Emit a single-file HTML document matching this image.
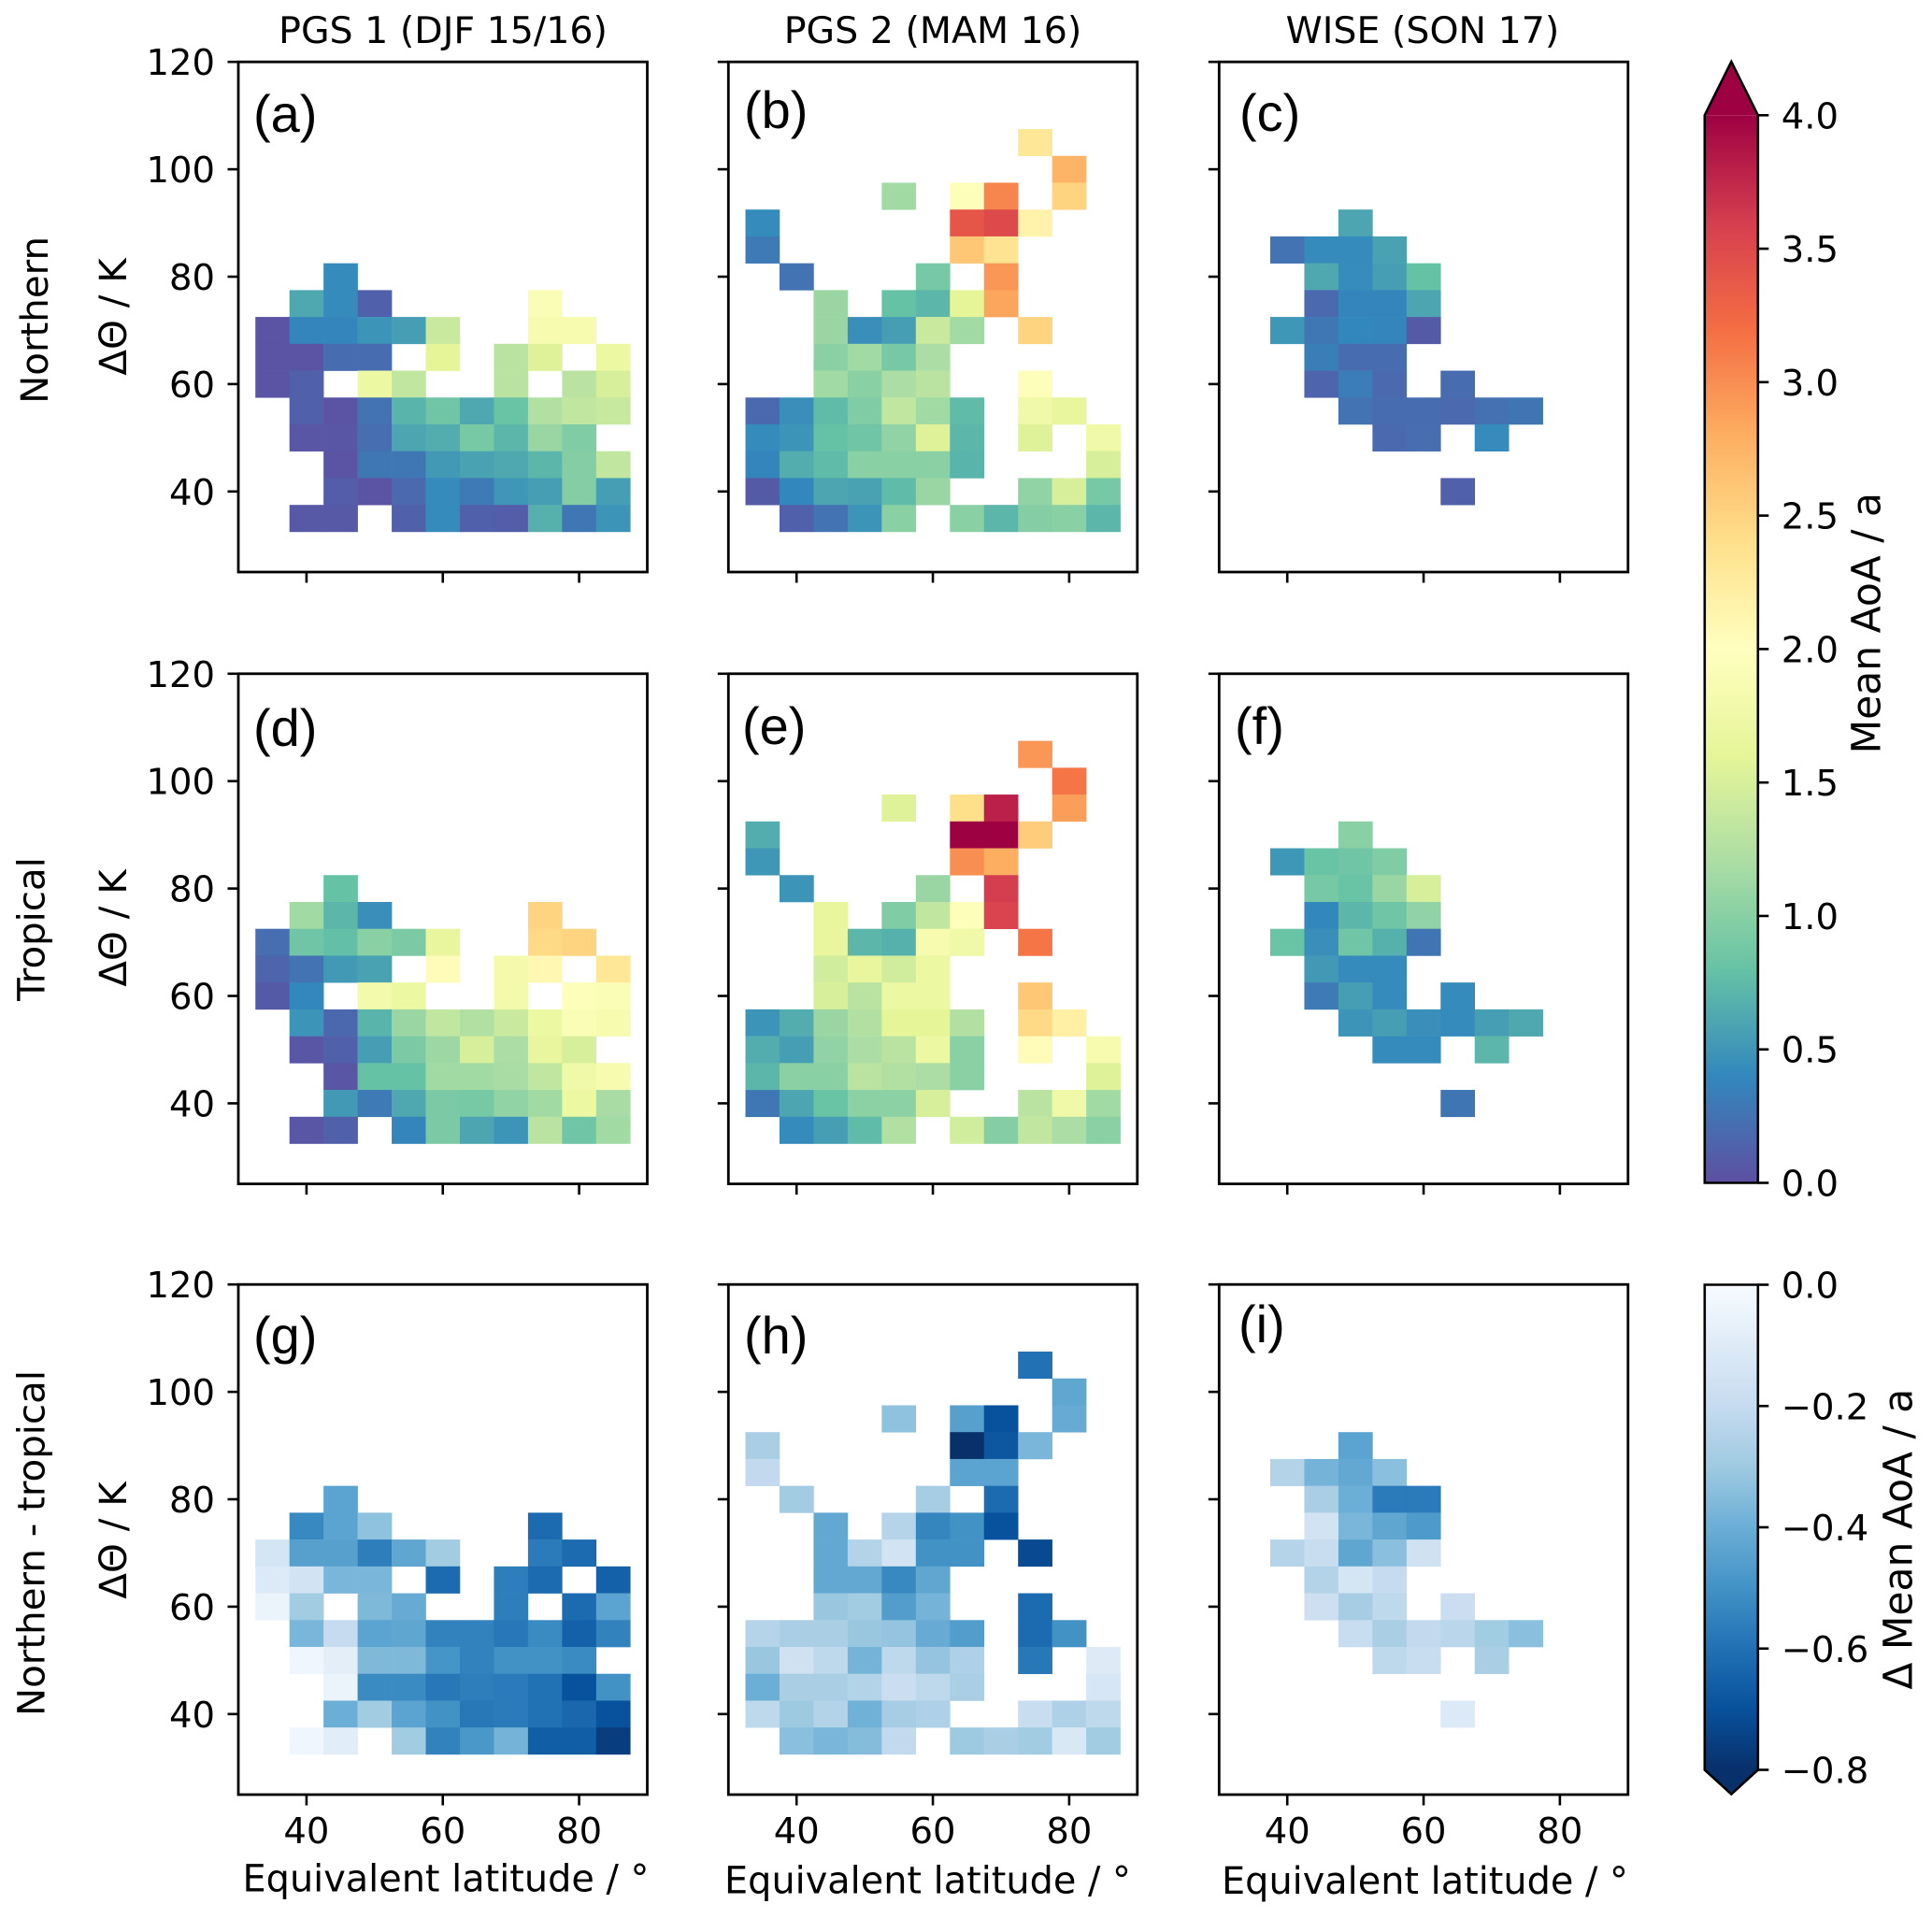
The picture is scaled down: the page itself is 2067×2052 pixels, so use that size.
<!DOCTYPE html>
<html lang="en">
<head>
<meta charset="utf-8">
<title>Mean AoA panels</title>
<style>
html,body{margin:0;padding:0;background:#fff;width:2067px;height:2052px;overflow:hidden}
svg{display:block}
text{font-family:"DejaVu Sans","Liberation Sans",sans-serif;fill:#000}
.tick{font-size:38.5px}
.title{font-size:39.5px;text-anchor:middle}
.axis{font-size:39.8px;text-anchor:middle}
.ylab{font-size:40.5px;text-anchor:middle}
.cbar-label{font-size:42.4px;text-anchor:middle}
.row-label{font-size:40.3px;text-anchor:middle}
.panel-letter{font-family:"Liberation Sans",sans-serif;font-size:56px}
</style>
</head>
<body>
<svg id="figure" xmlns="http://www.w3.org/2000/svg" width="2067" height="2052" viewBox="0 0 2067 2052">
<defs>
<linearGradient id="spectral-gradient" x1="0" y1="1" x2="0" y2="0"></linearGradient>
<linearGradient id="blues-gradient" x1="0" y1="1" x2="0" y2="0"></linearGradient>
</defs>
<g id="cells"></g>
<g id="axes"></g>
<g id="colorbars"></g>

<text class="title" x="474" y="46">PGS 1 (DJF 15/16)</text>
<text class="title" x="998" y="46">PGS 2 (MAM 16)</text>
<text class="title" x="1522" y="46">WISE (SON 17)</text>

<text class="row-label" transform="translate(51,342.4) rotate(-90)">Northern</text>
<text class="row-label" transform="translate(47.5,994) rotate(-90)">Tropical</text>
<text class="row-label" transform="translate(47.5,1651) rotate(-90)">Northern - tropical</text>

<text class="ylab" transform="translate(135,339) rotate(-90)">ΔΘ / K</text>
<text class="ylab" transform="translate(135,993) rotate(-90)">ΔΘ / K</text>
<text class="ylab" transform="translate(135,1648) rotate(-90)">ΔΘ / K</text>

<text class="axis" x="477" y="2023.5">Equivalent latitude / °</text>
<text class="axis" x="992.5" y="2025.5">Equivalent latitude / °</text>
<text class="axis" x="1524.5" y="2026">Equivalent latitude / °</text>

<text class="panel-letter" x="271" y="141">(a)</text>
<text class="panel-letter" x="796" y="137">(b)</text>
<text class="panel-letter" x="1326" y="140">(c)</text>
<text class="panel-letter" x="271" y="798">(d)</text>
<text class="panel-letter" x="794" y="796">(e)</text>
<text class="panel-letter" x="1321" y="796">(f)</text>
<text class="panel-letter" x="271" y="1448">(g)</text>
<text class="panel-letter" x="796" y="1448">(h)</text>
<text class="panel-letter" x="1325" y="1436">(i)</text>

<text class="cbar-label" transform="translate(2011.7,666.7) rotate(-90)">Mean AoA / a</text>
<text class="cbar-label" transform="translate(2045.7,1646.7) rotate(-90)">Δ Mean AoA / a</text>
</svg>

<script>
const N = null;

// Column centres (equivalent latitude, degrees) and row centres (delta theta, K)
const latitudeBins = [35, 40, 45, 50, 55, 60, 65, 70, 75, 80, 85];
const thetaBins = [105, 100, 95, 90, 85, 80, 75, 70, 65, 60, 55, 50, 45, 40, 35];
const binWidthLat = 5;
const binWidthTheta = 5;

const xTickValues = [40, 60, 80];
const yTickValues = [120, 100, 80, 60, 40];
const meanTickValues = ['0.0', '0.5', '1.0', '1.5', '2.0', '2.5', '3.0', '3.5', '4.0'];
const deltaTickValues = ['0.0', '-0.2', '-0.4', '-0.6', '-0.8'];

const spectralStops = ['#5e4fa2', '#3288bd', '#66c2a5', '#abdda4', '#e6f598', '#ffffbf', '#fee08b', '#fdae61', '#f46d43', '#d53e4f', '#9e0142'];
const bluesStops = ['#08306b', '#08519c', '#2171b5', '#4292c6', '#6baed6', '#9ecae1', '#c6dbef', '#deebf7', '#f7fbff'];

// Panel (a) Northern, PGS 1
const panelA = [
[N,N,N,N,N,N,N,N,N,N,N],
[N,N,N,N,N,N,N,N,N,N,N],
[N,N,N,N,N,N,N,N,N,N,N],
[N,N,N,N,N,N,N,N,N,N,N],
[N,N,N,N,N,N,N,N,N,N,N],
[N,N,.42,N,N,N,N,N,N,N,N],
[N,.62,.42,.12,N,N,N,N,1.9,N,N],
[.03,.38,.38,.48,.55,1.4,N,N,1.85,1.85,N],
[.03,.03,.2,.2,N,1.6,N,1.3,1.55,N,1.7],
[.03,.12,N,1.7,1.35,N,N,1.3,N,1.3,1.5],
[N,.12,.03,.25,.7,.85,.62,.82,1.25,1.35,1.38],
[N,.05,.05,.22,.6,.65,.9,.72,1.1,.95,N],
[N,N,.03,.28,.28,.52,.58,.62,.72,.98,1.35],
[N,N,.1,.03,.18,.42,.3,.5,.55,.98,.55],
[N,.06,.06,N,.12,.42,.12,.1,.68,.28,.48]
];

// Panel (b) Northern, PGS 2
const panelB = [
[N,N,N,N,N,N,N,N,2.3,N,N],
[N,N,N,N,N,N,N,N,N,2.75,N],
[N,N,N,N,1.15,N,1.95,3.05,N,2.5,N],
[.42,N,N,N,N,N,3.4,3.5,2.15,N,N],
[.3,N,N,N,N,N,2.6,2.35,N,N,N],
[N,.25,N,N,N,.9,N,2.95,N,N,N],
[N,N,1.1,N,.8,.72,1.6,2.85,N,N,N],
[N,N,1.1,.45,.55,1.4,1.15,N,2.5,N,N],
[N,N,1.0,1.15,.9,1.2,N,N,N,N,N],
[N,N,1.15,1.0,1.2,1.3,N,N,1.95,N,N],
[.18,.45,.75,.95,1.35,1.15,.75,N,1.75,1.65,N],
[.42,.48,.8,.85,1.05,1.55,.72,N,1.55,N,1.75],
[.38,.65,.75,1.0,1.0,1.0,.7,N,N,N,1.5],
[.08,.4,.6,.58,.75,1.1,N,N,1.05,1.5,.9],
[N,.12,.25,.48,1.0,N,1.0,.72,.98,1.0,.72]
];

// Panel (c) Northern, WISE
const panelC = [
[N,N,N,N,N,N,N,N,N,N,N],
[N,N,N,N,N,N,N,N,N,N,N],
[N,N,N,N,N,N,N,N,N,N,N],
[N,N,N,.6,N,N,N,N,N,N,N],
[N,.25,.42,.42,.58,N,N,N,N,N,N],
[N,N,.62,.43,.55,.8,N,N,N,N,N],
[N,N,.18,.38,.38,.6,N,N,N,N,N],
[N,.5,.28,.4,.38,.08,N,N,N,N,N],
[N,N,.33,.2,.2,N,N,N,N,N,N],
[N,N,.15,.32,.18,N,.2,N,N,N,N],
[N,N,N,.25,.2,.2,.18,.23,.27,N,N],
[N,N,N,N,.18,.22,N,.42,N,N,N],
[N,N,N,N,N,N,N,N,N,N,N],
[N,N,N,N,N,N,.12,N,N,N,N],
[N,N,N,N,N,N,N,N,N,N,N]
];

// Panel (d) Tropical, PGS 1
const panelD = [
[N,N,N,N,N,N,N,N,N,N,N],
[N,N,N,N,N,N,N,N,N,N,N],
[N,N,N,N,N,N,N,N,N,N,N],
[N,N,N,N,N,N,N,N,N,N,N],
[N,N,N,N,N,N,N,N,N,N,N],
[N,N,.8,N,N,N,N,N,N,N,N],
[N,1.15,.72,.45,N,N,N,N,2.5,N,N],
[.22,.85,.78,1.0,.92,1.65,N,N,2.45,2.5,N],
[.15,.25,.52,.58,N,2.05,N,1.8,2.1,N,2.3],
[.08,.4,N,1.8,1.7,N,N,1.8,N,1.95,1.9],
[N,.48,.17,.7,1.1,1.35,1.25,1.4,1.7,1.9,1.85],
[N,.05,.12,.55,.92,1.12,1.5,1.2,1.65,1.5,N],
[N,N,.05,.8,.8,1.15,1.15,1.18,1.35,1.75,1.85],
[N,N,.52,.3,.62,.92,.9,1.05,1.15,1.7,1.18],
[N,.05,.12,N,.38,.92,.6,.48,1.3,.85,1.15]
];

// Panel (e) Tropical, PGS 2
const panelE = [
[N,N,N,N,N,N,N,N,2.95,N,N],
[N,N,N,N,N,N,N,N,N,3.15,N],
[N,N,N,N,1.55,N,2.4,3.8,N,2.9,N],
[.65,N,N,N,N,N,4.0,4.0,2.55,N,N],
[.5,N,N,N,N,N,3.0,2.8,N,N,N],
[N,.48,N,N,N,1.1,N,3.6,N,N,N],
[N,N,1.65,N,.95,1.35,1.95,3.55,N,N,N],
[N,N,1.65,.72,.68,1.85,1.75,N,3.15,N,N],
[N,N,1.45,1.65,1.45,1.7,N,N,N,N,N],
[N,N,1.5,1.3,1.7,1.7,N,N,2.6,N,N],
[.48,.65,1.1,1.25,1.6,1.6,1.25,N,2.45,2.2,N],
[.65,.55,1.05,1.2,1.3,1.7,1.0,N,2.05,N,1.85],
[.72,1.0,1.0,1.3,1.25,1.2,1.0,N,N,N,1.55],
[.28,.6,.82,1.02,1.02,1.5,N,N,1.3,1.75,1.15],
[N,.42,.55,.75,1.25,N,1.45,.98,1.35,1.2,1.0]
];

// Panel (f) Tropical, WISE
const panelF = [
[N,N,N,N,N,N,N,N,N,N,N],
[N,N,N,N,N,N,N,N,N,N,N],
[N,N,N,N,N,N,N,N,N,N,N],
[N,N,N,1.0,N,N,N,N,N,N,N],
[N,.5,.82,.85,.95,N,N,N,N,N,N],
[N,N,.9,.82,1.1,1.5,N,N,N,N,N],
[N,N,.4,.72,.85,1.05,N,N,N,N,N],
[N,.82,.45,.85,.68,.27,N,N,N,N,N],
[N,N,.52,.42,.42,N,N,N,N,N,N],
[N,N,.3,.55,.42,N,.42,N,N,N,N],
[N,N,N,.48,.55,.45,.42,.55,.62,N,N],
[N,N,N,N,.42,.42,N,.72,N,N,N],
[N,N,N,N,N,N,N,N,N,N,N],
[N,N,N,N,N,N,.27,N,N,N,N],
[N,N,N,N,N,N,N,N,N,N,N]
];

// Panel (g) Northern - tropical, PGS 1
const panelG = [
[N,N,N,N,N,N,N,N,N,N,N],
[N,N,N,N,N,N,N,N,N,N,N],
[N,N,N,N,N,N,N,N,N,N,N],
[N,N,N,N,N,N,N,N,N,N,N],
[N,N,N,N,N,N,N,N,N,N,N],
[N,N,-.44,N,N,N,N,N,N,N,N],
[N,-.53,-.44,-.33,N,N,N,N,-.62,N,N],
[-.14,-.45,-.45,-.56,-.43,-.29,N,N,-.57,-.62,N],
[-.11,-.15,-.37,-.37,N,-.62,N,-.56,-.62,N,-.65],
[-.05,-.29,N,-.36,-.41,N,N,-.56,N,-.62,-.44],
[N,-.37,-.2,-.44,-.43,-.55,-.55,-.58,-.52,-.65,-.55],
[N,-.03,-.08,-.36,-.36,-.49,-.55,-.5,-.5,-.52,N],
[N,N,-.05,-.52,-.52,-.58,-.56,-.57,-.6,-.7,-.5],
[N,N,-.4,-.29,-.44,-.5,-.58,-.57,-.6,-.63,-.7],
[N,-.03,-.09,N,-.29,-.55,-.48,-.38,-.66,-.66,-.76]
];

// Panel (h) Northern - tropical, PGS 2
const panelH = [
[N,N,N,N,N,N,N,N,-.6,N,N],
[N,N,N,N,N,N,N,N,N,-.43,N],
[N,N,N,N,-.33,N,-.45,-.7,N,-.41,N],
[-.27,N,N,N,N,N,-.8,-.68,-.37,N,N],
[-.21,N,N,N,N,N,-.44,-.44,N,N,N],
[N,-.29,N,N,N,-.28,N,-.62,N,N,N],
[N,N,-.42,N,-.24,-.54,-.5,-.7,N,N,N],
[N,N,-.42,-.25,-.15,-.5,-.5,N,-.72,N,N],
[N,N,-.42,-.42,-.53,-.43,N,N,N,N,N],
[N,N,-.31,-.29,-.46,-.38,N,N,-.62,N,N],
[-.24,-.27,-.27,-.31,-.32,-.41,-.46,N,-.62,-.5,N],
[-.31,-.16,-.22,-.38,-.22,-.32,-.26,N,-.58,N,-.1],
[-.4,-.27,-.27,-.25,-.18,-.22,-.27,N,N,N,-.13],
[-.22,-.3,-.25,-.39,-.28,-.26,N,N,-.19,-.26,-.22],
[N,-.34,-.37,-.35,-.21,N,-.3,-.27,-.29,-.12,-.29]
];

// Panel (i) Northern - tropical, WISE
const panelI = [
[N,N,N,N,N,N,N,N,N,N,N],
[N,N,N,N,N,N,N,N,N,N,N],
[N,N,N,N,N,N,N,N,N,N,N],
[N,N,N,-.44,N,N,N,N,N,N,N],
[N,-.25,-.38,-.42,-.34,N,N,N,N,N,N],
[N,N,-.27,-.4,-.57,-.57,N,N,N,N,N],
[N,N,-.15,-.37,-.43,-.47,N,N,N,N,N],
[N,-.24,-.19,-.43,-.34,-.16,N,N,N,N,N],
[N,N,-.25,-.14,-.2,N,N,N,N,N,N],
[N,N,-.17,-.28,-.22,N,-.18,N,N,N,N],
[N,N,N,-.19,-.27,-.21,-.23,-.29,-.34,N,N],
[N,N,N,N,-.22,-.19,N,-.27,N,N,N],
[N,N,N,N,N,N,N,N,N,N,N],
[N,N,N,N,N,N,-.11,N,N,N,N],
[N,N,N,N,N,N,N,N,N,N,N]
];

const panelGrid = [[panelA, panelB, panelC], [panelD, panelE, panelF], [panelG, panelH, panelI]];
const panelNames = [['a', 'b', 'c'], ['d', 'e', 'f'], ['g', 'h', 'i']];

// Layout
const SVG_NS = 'http://www.w3.org/2000/svg';
const colLeft = [255, 779.3, 1304.3];
const rowTop = [66.2, 720.8, 1374.2];
const plotW = 437.5;
const plotH = 545.8;
const xMin = 30, xMax = 90, yMin = 25, yMax = 120;

function xPos(col, lat) { return colLeft[col] + (lat - xMin) / (xMax - xMin) * plotW; }
function yPos(row, theta) { return rowTop[row] + (yMax - theta) / (yMax - yMin) * plotH; }

function hexToRgb(h) {
  return [parseInt(h.slice(1, 3), 16), parseInt(h.slice(3, 5), 16), parseInt(h.slice(5, 7), 16)];
}
function colorFrom(stops, t) {
  const c = Math.max(0, Math.min(1, t)) * (stops.length - 1);
  const i = Math.min(Math.floor(c), stops.length - 2);
  const f = c - i;
  const a = hexToRgb(stops[i]), b = hexToRgb(stops[i + 1]);
  return 'rgb(' + [0, 1, 2].map(k => Math.round(a[k] + (b[k] - a[k]) * f)).join(',') + ')';
}
function meanColor(v) { return colorFrom(spectralStops, v / 4); }
function deltaColor(v) { return colorFrom(bluesStops, (v + 0.8) / 0.8); }

function make(tag, attrs, parent) {
  const el = document.createElementNS(SVG_NS, tag);
  for (const k in attrs) el.setAttribute(k, attrs[k]);
  parent.appendChild(el);
  return el;
}

const cellsLayer = document.getElementById('cells');
const axesLayer = document.getElementById('axes');
const barsLayer = document.getElementById('colorbars');

// Heatmap cells
panelGrid.forEach((rowPanels, r) => {
  rowPanels.forEach((matrix, c) => {
    const colorFn = r === 2 ? deltaColor : meanColor;
    matrix.forEach((rowVals, i) => {
      rowVals.forEach((v, j) => {
        if (v === null) return;
        const lat = latitudeBins[j], th = thetaBins[i];
        const x0 = xPos(c, lat - binWidthLat / 2), x1 = xPos(c, lat + binWidthLat / 2);
        const y0 = yPos(r, th + binWidthTheta / 2), y1 = yPos(r, th - binWidthTheta / 2);
        const cell = make('rect', { x: x0, y: y0, width: x1 - x0 + 0.3, height: y1 - y0 + 0.3, fill: colorFn(v) }, cellsLayer);
        
        
      });
    });
  });
});

// Axes
function addTick(x1, y1, x2, y2, parent) {
  const t = make('line', { x1: x1, y1: y1, x2: x2, y2: y2, stroke: '#000', 'stroke-width': 2.6 }, parent);
  
  
}

panelGrid.forEach((rowPanels, r) => {
  rowPanels.forEach((matrix, c) => {
    const frame = make('rect', { x: colLeft[c], y: rowTop[r], width: plotW, height: plotH, fill: 'none', stroke: '#000', 'stroke-width': 2.8 }, axesLayer);
    
    

    yTickValues.forEach(v => {
      const y = yPos(r, v);
      addTick(colLeft[c] - 11.5, y, colLeft[c], y, axesLayer);
      if (c === 0) {
        const lab = make('text', { class: 'tick', x: colLeft[c] - 25, y: y + 14, 'text-anchor': 'end' }, axesLayer);
        lab.textContent = String(v);
        
        
      }
    });

    xTickValues.forEach(v => {
      const x = xPos(c, v);
      addTick(x, rowTop[r] + plotH, x, rowTop[r] + plotH + 11.5, axesLayer);
      if (r === 2) {
        const lab = make('text', { class: 'tick', x: x, y: 1972, 'text-anchor': 'middle' }, axesLayer);
        lab.textContent = String(v);
        
        
      }
    });
  });
});

// Colorbars
const barX0 = 1823.8, barX1 = 1880.8;
const meanTop = 123.3, meanBottom = 1265.5, meanTip = 66;
const deltaTop = 1374.5, deltaBottom = 1893.5, deltaTip = 1919.5;
function meanBarY(v) { return meanBottom - v / 4 * (meanBottom - meanTop); }
function deltaBarY(v) { return deltaTop + (v / -0.8) * (deltaBottom - deltaTop); }

function fillGradient(id, stops) {
  const g = document.getElementById(id);
  stops.forEach((s, i) => {
    make('stop', { offset: i / (stops.length - 1), 'stop-color': s }, g);
  });
}
fillGradient('spectral-gradient', spectralStops);
fillGradient('blues-gradient', bluesStops);

const mid = (barX0 + barX1) / 2;

const meanTipShape = make('polygon', { points: barX0 + ',' + meanTop + ' ' + mid + ',' + meanTip + ' ' + barX1 + ',' + meanTop, fill: spectralStops[10] }, barsLayer);



const meanBar = make('rect', { x: barX0, y: meanTop, width: barX1 - barX0, height: meanBottom - meanTop, fill: 'url(#spectral-gradient)' }, barsLayer);



const meanOutline = make('polygon', { points: [barX0 + ',' + meanBottom, barX0 + ',' + meanTop, mid + ',' + meanTip, barX1 + ',' + meanTop, barX1 + ',' + meanBottom].join(' '), fill: 'none', stroke: '#000', 'stroke-width': 2.6 }, barsLayer);



const deltaTipShape = make('polygon', { points: barX0 + ',' + deltaBottom + ' ' + mid + ',' + deltaTip + ' ' + barX1 + ',' + deltaBottom, fill: bluesStops[0] }, barsLayer);



const deltaBar = make('rect', { x: barX0, y: deltaTop, width: barX1 - barX0, height: deltaBottom - deltaTop, fill: 'url(#blues-gradient)' }, barsLayer);



const deltaOutline = make('polygon', { points: [barX0 + ',' + deltaTop, barX0 + ',' + deltaBottom, mid + ',' + deltaTip, barX1 + ',' + deltaBottom, barX1 + ',' + deltaTop].join(' ') + ' ' + barX0 + ',' + deltaTop, fill: 'none', stroke: '#000', 'stroke-width': 2.6 }, barsLayer);



meanTickValues.forEach(label => {
  const y = meanBarY(parseFloat(label));
  addTick(barX1, y, barX1 + 11.5, y, barsLayer);
  const t = make('text', { class: 'tick', x: barX1 + 25, y: y + 14 }, barsLayer);
  t.textContent = label;
  
  
});
deltaTickValues.forEach(label => {
  const y = deltaBarY(parseFloat(label));
  addTick(barX1, y, barX1 + 11.5, y, barsLayer);
  const t = make('text', { class: 'tick', x: barX1 + 25, y: y + 14 }, barsLayer);
  t.textContent = label.replace('-', '\u2212');
  
  
});
</script>
</body>
</html>
